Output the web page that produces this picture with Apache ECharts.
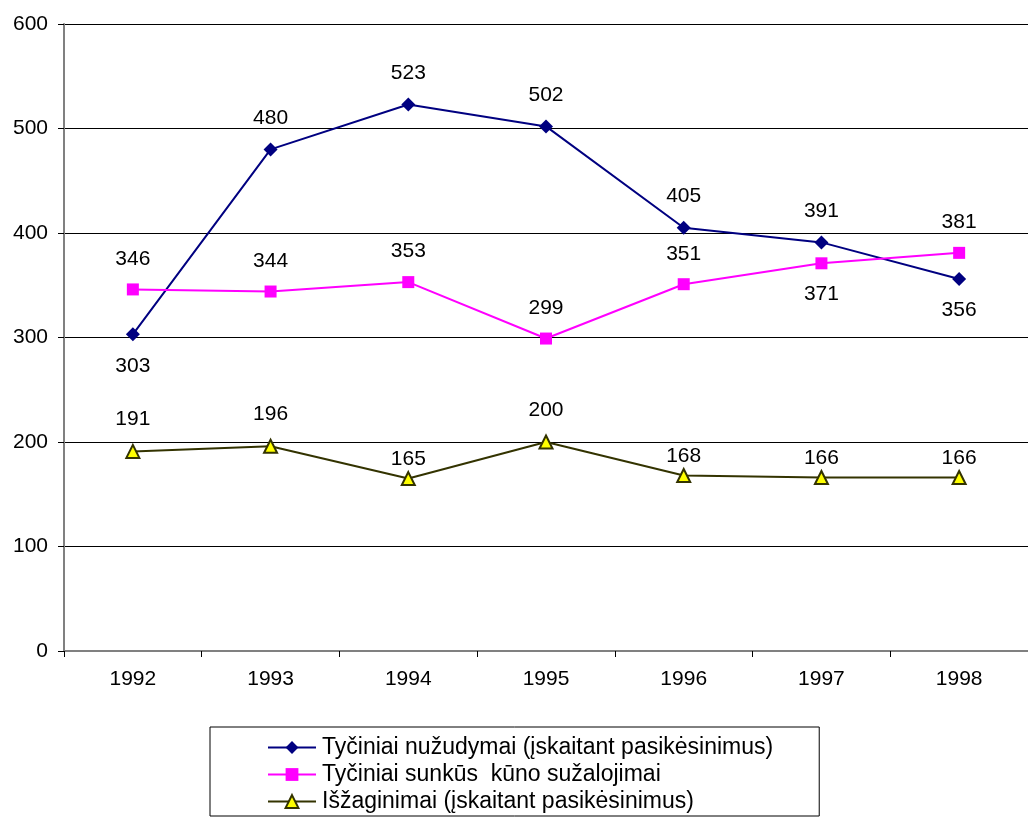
<!DOCTYPE html>
<html><head><meta charset="utf-8">
<script src="https://cdn.jsdelivr.net/npm/echarts@6/dist/echarts.min.js"></script>
<style>html,body{margin:0;padding:0;background:#fff}#c{width:1028px;height:821px}</style>
</head><body><div id="c"></div>
<script>
const years = ['1992','1993','1994','1995','1996','1997','1998'];
const seriesNames = [
  'Tyčiniai nužudymai (įskaitant pasikėsinimus)',
  'Tyčiniai sunkūs  kūno sužalojimai',
  'Išžaginimai (įskaitant pasikėsinimus)'
];
const murders = [303, 480, 523, 502, 405, 391, 356];
const injuries = [346, 344, 353, 299, 351, 371, 381];
const rapes = [191, 196, 165, 200, 168, 166, 166];

const font = 'Liberation Sans, Arial, sans-serif';
function items(vals, belowIdx, nearIdx) {
  return vals.map((v, i) => {
    const below = belowIdx.includes(i);
    const near = nearIdx.includes(i);
    return {value: v, label: {position: below ? 'bottom' : 'top', distance: near ? 1 : 14}};
  });
}
const chart = echarts.init(document.getElementById('c'));
chart.setOption({
  animation: false,
  grid: {left: 64, right: 0, top: 24, bottom: 170},
  xAxis: {
    type: 'category', data: years, boundaryGap: true,
    axisLine: {lineStyle: {color: '#808080', width: 2}},
    axisTick: {show: true, length: 6, lineStyle: {color: '#000'}},
    axisLabel: {color: '#000', fontSize: 21, fontFamily: font, margin: 18}
  },
  yAxis: {
    type: 'value', min: 0, max: 600, interval: 100,
    axisLine: {show: true, lineStyle: {color: '#808080', width: 2}},
    axisTick: {show: true, length: 6, lineStyle: {color: '#000'}},
    axisLabel: {color: '#000', fontSize: 21, fontFamily: font, margin: 16},
    splitLine: {lineStyle: {color: '#000', width: 1}}
  },
  legend: {
    left: 210, top: 727, orient: 'vertical', itemWidth: 48, itemHeight: 16, itemGap: 4,
    padding: [9, 46, 3, 57], borderColor: '#000', borderWidth: 1,
    textStyle: {fontSize: 23, fontFamily: font, color: '#000', padding: [0, 0, 0, 1]},
    data: seriesNames
  },
  series: [
    {name: seriesNames[0], type: 'line', data: items(murders, [0, 6], []),
     symbol: 'diamond', symbolSize: 14, color: '#000080',
     lineStyle: {width: 2, color: '#000080'}, itemStyle: {color: '#000080'},
     label: {show: true, color: '#000', fontSize: 21, fontFamily: font}},
    {name: seriesNames[1], type: 'line', data: items(injuries, [5], []),
     symbol: 'rect', symbolSize: 12, color: '#FF00FF',
     lineStyle: {width: 2, color: '#FF00FF'}, itemStyle: {color: '#FF00FF'},
     label: {show: true, color: '#000', fontSize: 21, fontFamily: font}},
    {name: seriesNames[2], type: 'line', data: items(rapes, [], [2, 4, 5, 6]),
     symbol: 'triangle', symbolSize: 13, color: '#333300',
     lineStyle: {width: 2, color: '#333300'},
     itemStyle: {color: '#FFFF00', borderColor: '#333300', borderWidth: 2},
     label: {show: true, color: '#000', fontSize: 21, fontFamily: font}}
  ]
});
</script></body></html>
